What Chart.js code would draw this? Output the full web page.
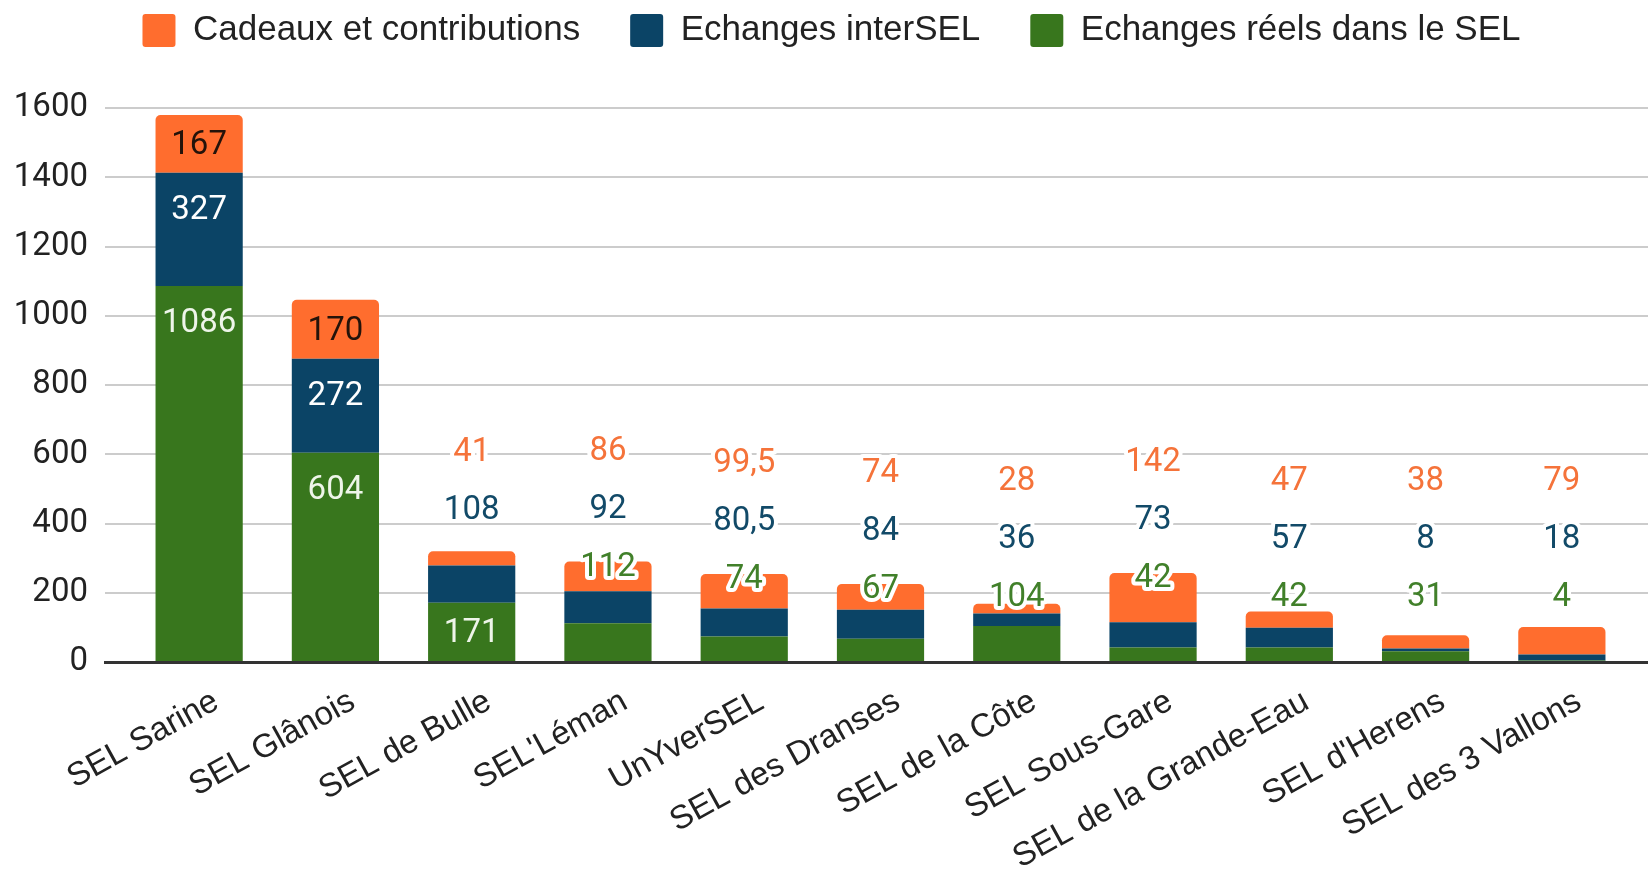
<!DOCTYPE html>
<html lang="fr">
<head>
<meta charset="utf-8">
<title>Echanges par SEL</title>
<script src="https://cdn.jsdelivr.net/npm/chart.js@4.4.1/dist/chart.umd.min.js"></script>
<style>
    html, body { margin: 0; padding: 0; background: #fff; }
    #wrap { width: 1648px; height: 884px; position: relative; }
</style>
</head>
<body>
<div id="wrap"><canvas id="selChart"></canvas></div>
<script>
/* ==========================================================
   Data
========================================================== */

const CATEGORIES = [
    "SEL Sarine", "SEL Glânois", "SEL de Bulle", "SEL'Léman", "UnYverSEL",
    "SEL des Dranses", "SEL de la Côte", "SEL Sous-Gare", "SEL de la Grande-Eau",
    "SEL d'Herens", "SEL des 3 Vallons"
];

const ECHANGES_REELS = [1086, 604, 171, 112, 74, 67, 104, 42, 42, 31, 4];
const ECHANGES_INTERSEL = [327, 272, 108, 92, 80.5, 84, 36, 73, 57, 8, 18];
const CADEAUX = [167, 170, 41, 86, 99.5, 74, 28, 142, 47, 38, 79];

const Y_MIN = 0;
const Y_MAX = 1600;
const Y_STEP = 200;

/* ==========================================================
   Styling
========================================================== */

const COLORS = {
    orange: "#FF6D2E",
    blue: "#0B4466",
    green: "#38761D",
    grid: "#CCCCCC",
    axis: "#333333",
    text: "#222222"
};

const fmt = (v) => String(v).replace(".", ",");

// Shrink the category band a little inside the plot area (gridlines run wider)
const bandInset = {
    id: "bandInset",
    afterLayout(chart, args, opts) {
        const x = chart.scales.x;
        x._startPixel = x.left + opts.left;
        x._endPixel = x.right - opts.right;
        x._length = x._endPixel - x._startPixel;
    }
};

// Value labels: near the top of the segment when it is tall enough,
// otherwise stacked in a column above the bar with a white halo.
const segmentLabels = {
    id: "segmentLabels",
    afterDatasetsDraw(chart, args, opts) {
        const ctx = chart.ctx;
        const axisY = chart.scales.y.getPixelForValue(0);

        ctx.save();
        ctx.font = opts.font;
        ctx.textAlign = "center";
        ctx.textBaseline = "middle";
        ctx.lineJoin = "round";

        chart.data.labels.forEach((_, i) => {
            const segs = chart.data.datasets.map((ds, k) => {
                const bar = chart.getDatasetMeta(k).data[i];
                return {
                    bar: bar,
                    ds: ds,
                    text: fmt(ds.data[i]),
                    fits: Math.abs(bar.base - bar.y) >= opts.minFit
                };
            });

            const topY = Math.min(...segs.map(s => s.bar.y));

            segs.filter(s => s.fits).forEach(s => {
                const y = Math.min(s.bar.y + opts.insideTop, (s.bar.y + s.bar.base) / 2);
                ctx.fillStyle = s.ds.insideColor;
                ctx.fillText(s.text, s.bar.x, y + 2);
            });

            const out = segs.filter(s => !s.fits);
            if (!out.length) return;

            let y = out.length < segs.length
                ? topY - opts.lineHeight * 0.7
                : Math.min(topY + 6, axisY - opts.lineHeight * 1.1);

            out.forEach(s => {
                ctx.strokeStyle = "#FFFFFF";
                ctx.lineWidth = 8;
                ctx.strokeText(s.text, s.bar.x, y);
                ctx.fillStyle = s.ds.outsideColor;
                ctx.fillText(s.text, s.bar.x, y);
                y -= opts.lineHeight;
            });
        });

        ctx.restore();
    }
};

new Chart(document.getElementById("selChart").getContext("2d"), {
    type: "bar",
    data: {
        labels: CATEGORIES,
        datasets: [
            {
                label: "Echanges réels dans le SEL",
                data: ECHANGES_REELS,
                backgroundColor: COLORS.green,
                insideColor: "#EEF5E9",
                outsideColor: "#41802A"
            },
            {
                label: "Echanges interSEL",
                data: ECHANGES_INTERSEL,
                backgroundColor: COLORS.blue,
                insideColor: "#FFFFFF",
                outsideColor: "#124A68"
            },
            {
                label: "Cadeaux et contributions",
                data: CADEAUX,
                backgroundColor: COLORS.orange,
                borderRadius: { topLeft: 5, topRight: 5 },
                insideColor: "#24130A",
                outsideColor: "#F5733A"
            }
        ]
    },
    options: {
        responsive: true,
        maintainAspectRatio: false,
        animation: false,
        barPercentage: 0.64,
        categoryPercentage: 1,
        layout: { padding: { top: -37, left: 15, right: 0, bottom: 0 } },
        plugins: {
            legend: {
                position: "top",
                reverse: true,
                labels: {
                    font: { family: "'Liberation Sans', Arial, sans-serif", size: 35 },
                    color: COLORS.text,
                    boxWidth: 33,
                    boxHeight: 33,
                    padding: 50,
                    useBorderRadius: true,
                    borderRadius: 3
                }
            },
            // empty title used as a spacer between legend and plot
            title: {
                display: true,
                text: "",
                weight: 500,
                padding: 0,
                font: { size: 50, lineHeight: 1 }
            },
            tooltip: { enabled: false },
            bandInset: { left: 26, right: 18 },
            segmentLabels: {
                font: "33px Roboto",
                minFit: 52,
                insideTop: 36,
                lineHeight: 58
            }
        },
        scales: {
            x: {
                stacked: true,
                grid: { display: false, drawTicks: false },
                border: { display: true, color: COLORS.axis, width: 3 },
                afterFit: (scale) => {
                    scale.height = 222;
                    scale.paddingLeft = 0;
                    scale.paddingRight = 0;
                },
                ticks: {
                    autoSkip: false,
                    minRotation: 29,
                    maxRotation: 29,
                    padding: 20,
                    labelOffset: 17,
                    color: COLORS.text,
                    font: { family: "'Liberation Sans', Arial, sans-serif", size: 33 }
                }
            },
            y: {
                stacked: true,
                min: Y_MIN,
                max: Y_MAX,
                grid: { color: COLORS.grid, lineWidth: 2, drawTicks: false },
                border: { display: false },
                afterFit: (scale) => { scale.width = 90; },
                ticks: {
                    stepSize: Y_STEP,
                    padding: 17,
                    color: COLORS.text,
                    font: { family: "Roboto", size: 33 },
                    callback: (v) => String(v)
                }
            }
        }
    },
    plugins: [bandInset, segmentLabels]
});
</script>
</body>
</html>
